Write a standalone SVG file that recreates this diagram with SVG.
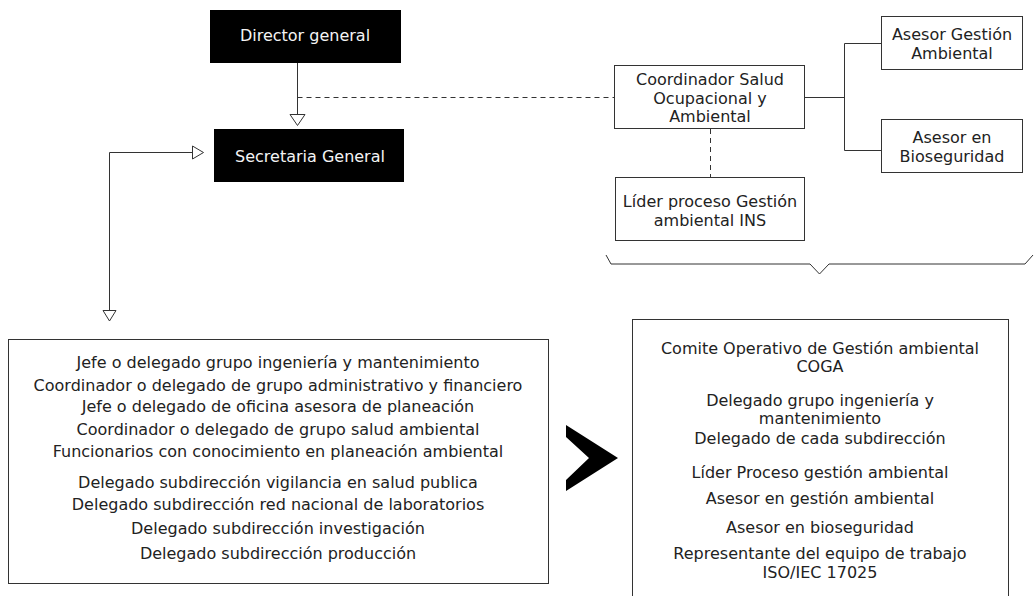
<svg xmlns="http://www.w3.org/2000/svg" width="1035" height="596" viewBox="0 0 1035 596">
<style>
text{font-family:"DejaVu Sans","Liberation Sans",sans-serif;font-size:16px;fill:#222222;text-anchor:middle}
.w{fill:#f4f4f4}
.box{fill:#ffffff;stroke:#333333;stroke-width:1}
.blk{fill:#000000}
.ln{fill:none;stroke:#333333;stroke-width:1}
.ds{fill:none;stroke:#333333;stroke-width:1;stroke-dasharray:5 4}
.ah{fill:#ffffff;stroke:#333333;stroke-width:1}
</style>
<rect width="1035" height="596" fill="#ffffff"/>
<g id="connectors">
<path class="ln" d="M297.5 63 V114"/>
<polygon class="ah" points="290,114.5 305,114.5 297.5,125.5"/>
<path class="ds" d="M297.5 97.5 H614"/>
<path class="ln" d="M109.5 152.5 H192"/>
<polygon class="ah" points="192.5,146 192.5,159 203.5,152.5"/>
<path class="ln" d="M109.5 152.5 V310"/>
<polygon class="ah" points="103,310.5 116,310.5 109.5,321"/>
<path class="ln" d="M805 97.5 H844.5 M844.5 43.5 V150.5 M844.5 43.5 H881 M844.5 150.5 H881"/>
<path class="ds" d="M710.5 129 V177"/>
<polyline class="ln" points="606,255 611,264 810,264 819.5,274 829,264 1025,264 1033,255"/>
<polygon class="blk" points="566,425 618,458 566,491 566,480 589,458 566,437"/>
</g>
<g id="director">
<rect class="blk" x="210" y="10" width="191" height="53"/>
<text class="w" x="305" y="41">Director general</text>
</g>
<g id="secretaria">
<rect class="blk" x="214" y="129" width="190" height="53"/>
<text class="w" x="310" y="162">Secretaria General</text>
</g>
<g id="coordinador">
<rect class="box" x="614.5" y="65.5" width="190" height="63"/>
<text x="710" y="85">Coordinador Salud</text>
<text x="710" y="103.5">Ocupacional y</text>
<text x="710" y="122">Ambiental</text>
</g>
<g id="asesor-gestion">
<rect class="box" x="881.5" y="16.5" width="141" height="53"/>
<text x="952" y="40">Asesor Gestión</text>
<text x="952" y="59">Ambiental</text>
</g>
<g id="asesor-bioseguridad">
<rect class="box" x="881.5" y="119.5" width="141" height="53"/>
<text x="952" y="142.5">Asesor en</text>
<text x="952" y="161.5">Bioseguridad</text>
</g>
<g id="lider">
<rect class="box" x="615.5" y="177.5" width="189" height="63"/>
<text x="710" y="206.5">Líder proceso Gestión</text>
<text x="710" y="225.5">ambiental INS</text>
</g>
<g id="grupo">
<rect class="box" x="8.5" y="339.5" width="540" height="244"/>
<text x="278" y="368">Jefe o delegado grupo ingeniería y mantenimiento</text>
<text x="278" y="390.5">Coordinador o delegado de grupo administrativo y financiero</text>
<text x="278" y="412">Jefe o delegado de oficina asesora de planeación</text>
<text x="278" y="434.5">Coordinador o delegado de grupo salud ambiental</text>
<text x="278" y="456.5">Funcionarios con conocimiento en planeación ambiental</text>
<text x="278" y="487.5">Delegado subdirección vigilancia en salud publica</text>
<text x="278" y="510">Delegado subdirección red nacional de laboratorios</text>
<text x="278" y="534">Delegado subdirección investigación</text>
<text x="278" y="559">Delegado subdirección producción</text>
</g>
<g id="coga">
<rect class="box" x="632.5" y="319.5" width="376" height="290"/>
<text x="820" y="354">Comite Operativo de Gestión ambiental</text>
<text x="820" y="372">COGA</text>
<text x="820" y="406">Delegado grupo ingeniería y</text>
<text x="820" y="423.5">mantenimiento</text>
<text x="820" y="443.5">Delegado de cada subdirección</text>
<text x="820" y="478">Líder Proceso gestión ambiental</text>
<text x="820" y="504">Asesor en gestión ambiental</text>
<text x="820" y="532.5">Asesor en bioseguridad</text>
<text x="820" y="559">Representante del equipo de trabajo</text>
<text x="820" y="578">ISO/IEC 17025</text>
</g>
</svg>
